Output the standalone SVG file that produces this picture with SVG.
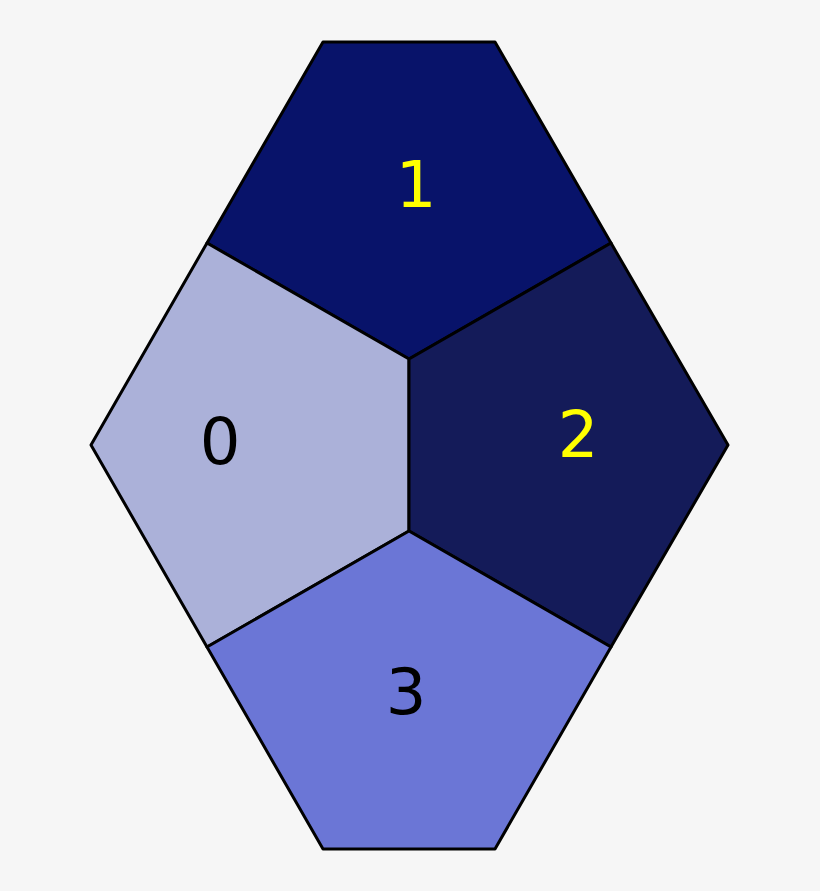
<svg xmlns="http://www.w3.org/2000/svg" width="820" height="891" viewBox="0 0 820 891">
<style>
.cell{stroke:#000;stroke-width:3;stroke-linejoin:round}
.lbl{font-family:"DejaVu Sans",sans-serif;font-size:64px;text-anchor:middle}
</style>
<rect width="820" height="891" fill="#f6f6f6"/>
<g id="cell1"><polygon class="cell" fill="#08136a" points="323,42 495,42 611,243 409,359 207,243"/><text class="lbl" x="416" y="207" fill="#ffff00">1</text></g>
<g id="cell0"><polygon class="cell" fill="#abb1d9" points="207,243 409,359 409,531 207,647 91,445"/><text class="lbl" x="220" y="464" fill="#000">0</text></g>
<g id="cell2"><polygon class="cell" fill="#141b59" points="611,243 728,445 611,647 409,531 409,359"/><text class="lbl" x="578" y="457" fill="#ffff00">2</text></g>
<g id="cell3"><polygon class="cell" fill="#6b76d6" points="409,531 611,647 495,849 323,849 207,647"/><text class="lbl" x="406" y="714" fill="#000">3</text></g>
</svg>
